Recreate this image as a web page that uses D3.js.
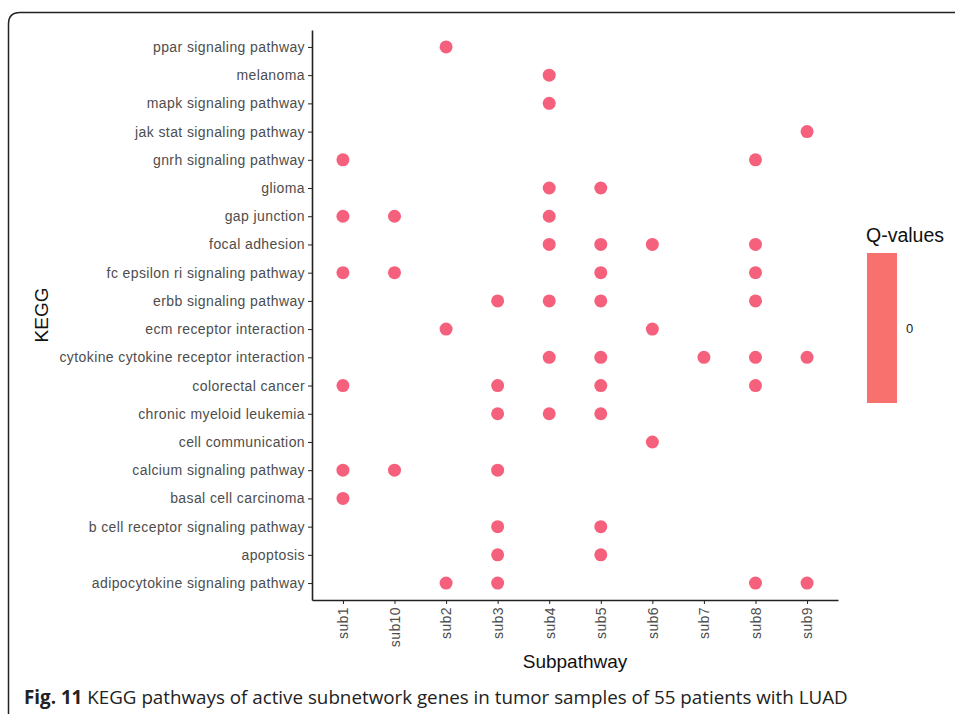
<!DOCTYPE html>
<meta charset="utf-8">
<style>
  body { margin: 0; background: #fff; }
  svg { font-family: "Liberation Sans", Arial, sans-serif; }
  .axis path, .axis line { stroke: #222; }
  .axis text { fill: #4d4d4d; font-size: 14px; letter-spacing: 0.4px; }
</style>
<body>
<script src="https://cdn.jsdelivr.net/npm/d3@7"></script>
<script>
  // categories, top to bottom
  var pathways = [
    "ppar signaling pathway", "melanoma", "mapk signaling pathway", "jak stat signaling pathway",
    "gnrh signaling pathway", "glioma", "gap junction", "focal adhesion",
    "fc epsilon ri signaling pathway", "erbb signaling pathway", "ecm receptor interaction",
    "cytokine cytokine receptor interaction", "colorectal cancer", "chronic myeloid leukemia",
    "cell communication", "calcium signaling pathway", "basal cell carcinoma",
    "b cell receptor signaling pathway", "apoptosis", "adipocytokine signaling pathway"
  ];
  var subpathways = ["sub1", "sub10", "sub2", "sub3", "sub4", "sub5", "sub6", "sub7", "sub8", "sub9"];

  // which subpathways each pathway is found in (same order as pathways)
  var hits = [
    ["sub2"],
    ["sub4"],
    ["sub4"],
    ["sub9"],
    ["sub1", "sub8"],
    ["sub4", "sub5"],
    ["sub1", "sub10", "sub4"],
    ["sub4", "sub5", "sub6", "sub8"],
    ["sub1", "sub10", "sub5", "sub8"],
    ["sub3", "sub4", "sub5", "sub8"],
    ["sub2", "sub6"],
    ["sub4", "sub5", "sub7", "sub8", "sub9"],
    ["sub1", "sub3", "sub5", "sub8"],
    ["sub3", "sub4", "sub5"],
    ["sub6"],
    ["sub1", "sub10", "sub3"],
    ["sub1"],
    ["sub3", "sub5"],
    ["sub3", "sub5"],
    ["sub2", "sub3", "sub8", "sub9"]
  ];
  var qTicks = [0];

  var points = [];
  pathways.forEach(function (p, i) {
    hits[i].forEach(function (s) { points.push({ pathway: p, sub: s, q: 0 }); });
  });

  var width = 955, height = 714;
  var plotLeft = 312, plotRight = 838, plotTop = 30, plotBottom = 600;

  var svg = d3.select("body").append("svg")
    .attr("width", width)
    .attr("height", height);

  // figure frame
  svg.append("path")
    .attr("d", "M8.5,730 L8.5,24 Q8.5,12.5 20,12.5 L970,12.5")
    .attr("fill", "none")
    .attr("stroke", "#222")
    .attr("stroke-width", 1.5);

  var x = d3.scalePoint()
    .domain(subpathways)
    .range([plotLeft, plotRight])
    .padding(0.6);

  var y = d3.scalePoint()
    .domain(pathways)
    .range([plotTop, plotBottom])
    .padding(0.6);

  var xAxis = svg.append("g")
    .attr("class", "axis")
    .attr("transform", "translate(0," + plotBottom + ")")
    .call(d3.axisBottom(x).tickSize(4).tickSizeOuter(0));
  xAxis.selectAll("text")
    .attr("transform", "rotate(-90)")
    .attr("text-anchor", "end")
    .attr("x", -7)
    .attr("y", 0)
    .attr("dy", "0.35em");

  var yAxis = svg.append("g")
    .attr("class", "axis")
    .attr("transform", "translate(" + plotLeft + ",0)")
    .call(d3.axisLeft(y).tickSize(4).tickSizeOuter(0));
  yAxis.selectAll("text").attr("x", -7);

  svg.selectAll(".axis path").attr("stroke-width", 1.6);

  svg.selectAll("circle.dot")
    .data(points)
    .enter().append("circle")
    .attr("class", "dot")
    .attr("cx", function (d) { return x(d.sub); })
    .attr("cy", function (d) { return y(d.pathway); })
    .attr("r", 6.5)
    .attr("fill", "#f4506e")
    .attr("fill-opacity", 0.9);

  // axis titles
  svg.append("text")
    .attr("x", (plotLeft + plotRight) / 2)
    .attr("y", 668)
    .attr("text-anchor", "middle")
    .attr("font-size", 19)
    .attr("fill", "#111")
    .text("Subpathway");

  svg.append("text")
    .attr("transform", "translate(48," + (plotTop + plotBottom) / 2 + ") rotate(-90)")
    .attr("text-anchor", "middle")
    .attr("font-size", 19)
    .attr("fill", "#111")
    .text("KEGG");

  // legend
  var legend = svg.append("g").attr("transform", "translate(867,253)");
  legend.append("text")
    .attr("x", -1)
    .attr("y", -11)
    .attr("font-size", 19.5)
    .attr("fill", "#111")
    .text("Q-values");
  legend.append("rect")
    .attr("width", 30)
    .attr("height", 150)
    .attr("fill", "#f8716f");
  var q = d3.scaleLinear().domain([-1, 1]).range([150, 0]);
  legend.selectAll(".qtick")
    .data(qTicks)
    .enter().append("text")
    .attr("x", 39)
    .attr("y", function (d) { return q(d); })
    .attr("dy", "0.35em")
    .attr("font-size", 13)
    .attr("fill", "#222")
    .text(function (d) { return d; });

  // caption
  var cap = svg.append("text")
    .attr("x", 24)
    .attr("y", 704)
    .attr("font-family", "'Open Sans', sans-serif")
    .attr("font-size", 18.8)
    .attr("fill", "#222");
  cap.append("tspan").attr("font-weight", "bold").text("Fig. 11");
  cap.append("tspan").text(" KEGG pathways of active subnetwork genes in tumor samples of 55 patients with LUAD");
</script>
</body>
